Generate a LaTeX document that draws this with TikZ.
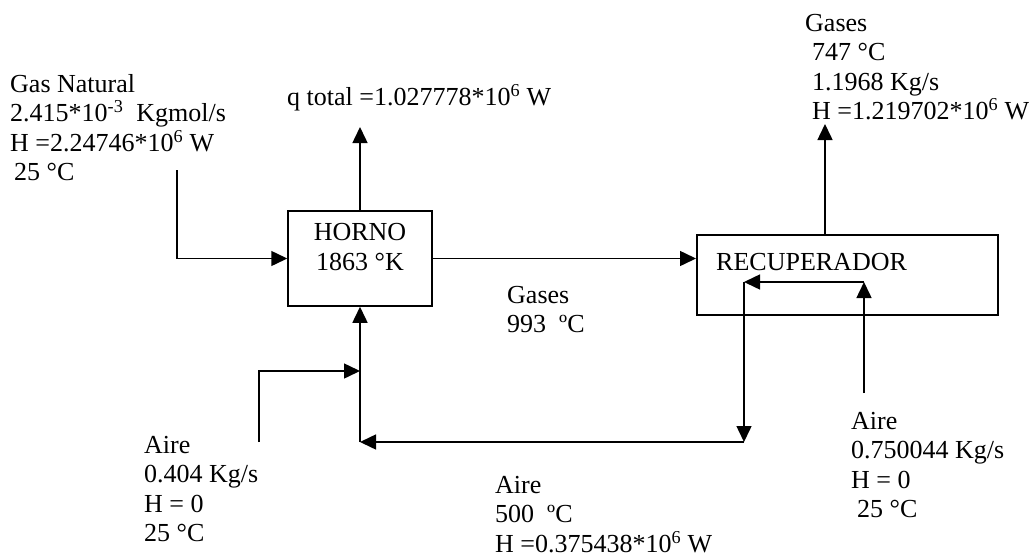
\documentclass[tikz,border=0pt]{standalone}
\usepackage{fontspec}
\setmainfont{Liberation Serif}
\usetikzlibrary{positioning,calc,arrows.meta}

\begin{document}
\begin{tikzpicture}[
  x=1pt, y=-1pt,
  unit/.style={draw=black, line width=1.5pt, rectangle, inner sep=0pt,
               align=center, font=\fontsize{26}{30}\selectfont},
  lbl/.style={inner sep=0pt, align=left, anchor=north west,
              font=\fontsize{26}{29.5}\selectfont},
  flow/.style={line width=1.5pt, -{Triangle[length=16pt,width=15pt]}},
]
\useasboundingbox (0,0) rectangle (1036,557);

% Units
\node[unit, minimum width=144pt, minimum height=95pt] (horno) at (360,258.5)
  {HORNO\\1863 °K\\[-6pt]};
\node[unit, minimum width=301pt, minimum height=80pt, anchor=north west] (recup) at (696,234) {};
\node[lbl, anchor=west] (recupLbl) at (716,262) {RECUPERADOR};

% Free ends
\coordinate (gnIn) at (177,170);
\coordinate (qOut) at (360,127);
\coordinate (gOut) at (825,124);
\coordinate (airRIn) at (864,393);
\coordinate (rin) at (864,282);
\coordinate (rout) at (744,282);
\coordinate (rdown) at (744,442);
\coordinate (lcorner) at (360,442);
\coordinate (airLIn) at (259,442);
\coordinate (ljoin) at (360,371);

% Labels
\node[lbl] (gnLbl) at (10,74)
  {Gas Natural\\2.415*10\textsuperscript{-3}~~Kgmol/s\\H =2.24746*10\textsuperscript{6} W\\\hspace{4pt}25 °C};
\node[lbl] (qLbl) at (287,84) {q total =1.027778*10\textsuperscript{6} W};
\node[lbl] (gOutLbl) at (805,14)
  {Gases\\\hspace{7pt}747 °C\\\hspace{7pt}1.1968 Kg/s\\\hspace{7pt}H =1.219702*10\textsuperscript{6} W};
\node[lbl] (gasesLbl) at (507,286) {Gases\\993~~ºC};
\node[lbl] (airLLbl) at (144,436) {Aire\\0.404 Kg/s\\H = 0\\25 °C};
\node[lbl] (airMLbl) at (495,476) {Aire\\500~~ºC\\H =0.375438*10\textsuperscript{6} W};
\node[lbl] (airRLbl) at (851,412) {Aire\\0.750044 Kg/s\\H = 0\\\hspace{6pt}25 °C};

% Streams
\draw[flow] (gnIn) |- (horno.west);
\draw[flow] (horno.north) -- (qOut);
\draw[flow] (horno.east) -- (horno.east -| recup.west);
\draw[flow] (recup.north -| gOut) -- (gOut);
\draw[flow] (airRIn) -- (rin);
\draw[flow] (rin) -- (rout);
\draw[flow] (rout) -- (rdown);
\draw[flow] (rdown) -- (lcorner);
\draw[flow] (lcorner) -- (horno.south);
\draw[flow] (airLIn) |- (ljoin);

\end{tikzpicture}
\end{document}
